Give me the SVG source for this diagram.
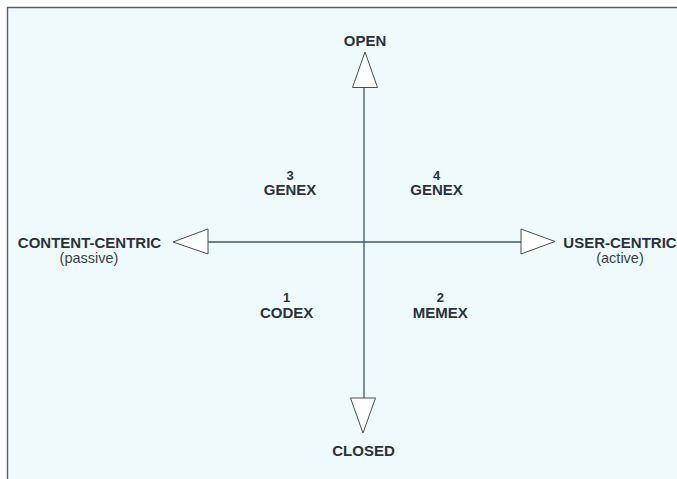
<svg xmlns="http://www.w3.org/2000/svg" width="677" height="479" viewBox="0 0 677 479">
  <style>
    .axis { stroke: #3d5670; stroke-width: 1.3; fill: none; }
    .head { fill: #ffffff; stroke: #4a4f55; stroke-width: 1; stroke-linejoin: miter; }
    .pole { font-family: "Liberation Sans", Arial, sans-serif; font-size: 15px; font-weight: bold; fill: #2b323b; text-anchor: middle; }
    .sub { font-family: "Liberation Sans", Arial, sans-serif; font-size: 14.5px; fill: #3a414a; text-anchor: middle; }
    .quad { font-family: "Liberation Sans", Arial, sans-serif; font-size: 15px; font-weight: bold; fill: #2b323b; text-anchor: middle; }
    .num { font-family: "Liberation Sans", Arial, sans-serif; font-size: 13px; font-weight: bold; fill: #2b323b; text-anchor: middle; }
  </style>

  <!-- page and panel -->
  <rect x="0" y="0" width="677" height="479" fill="#ffffff"/>
  <rect x="7.5" y="7.5" width="670" height="472" fill="#eefafc"/>
  <path d="M7.5 479 V7.5 H677" fill="none" stroke="#5a5f66" stroke-width="1.4"/>

  <!-- axes -->
  <g id="connectors">
    <line class="axis" x1="364" y1="87" x2="364" y2="398"/>
    <line class="axis" x1="208" y1="242" x2="521" y2="242"/>
    <polygon class="head" points="365,52 377.5,87.5 352.5,87.5"/>
    <polygon class="head" points="363,433 350.5,398 375.5,398"/>
    <polygon class="head" points="173,242 208,229 208,254"/>
    <polygon class="head" points="555,241.5 521,229 521,254"/>
  </g>

  <!-- axis poles -->
  <g id="open">
    <text class="pole" x="365" y="45.5">OPEN</text>
  </g>
  <g id="closed">
    <text class="pole" x="363.5" y="455.5">CLOSED</text>
  </g>
  <g id="content-centric">
    <text class="pole" x="89.5" y="248">CONTENT-CENTRIC</text>
    <text class="sub" x="89" y="263">(passive)</text>
  </g>
  <g id="user-centric">
    <text class="pole" x="620" y="248">USER-CENTRIC</text>
    <text class="sub" x="620" y="263">(active)</text>
  </g>

  <!-- quadrants -->
  <g id="q3">
    <text class="num" x="290" y="179.5">3</text>
    <text class="quad" x="290" y="195">GENEX</text>
  </g>
  <g id="q4">
    <text class="num" x="436.5" y="179.5">4</text>
    <text class="quad" x="436.5" y="195">GENEX</text>
  </g>
  <g id="q1">
    <text class="num" x="286.7" y="302">1</text>
    <text class="quad" x="286.7" y="317.5">CODEX</text>
  </g>
  <g id="q2">
    <text class="num" x="440.3" y="302">2</text>
    <text class="quad" x="440.3" y="317.5">MEMEX</text>
  </g>
</svg>
